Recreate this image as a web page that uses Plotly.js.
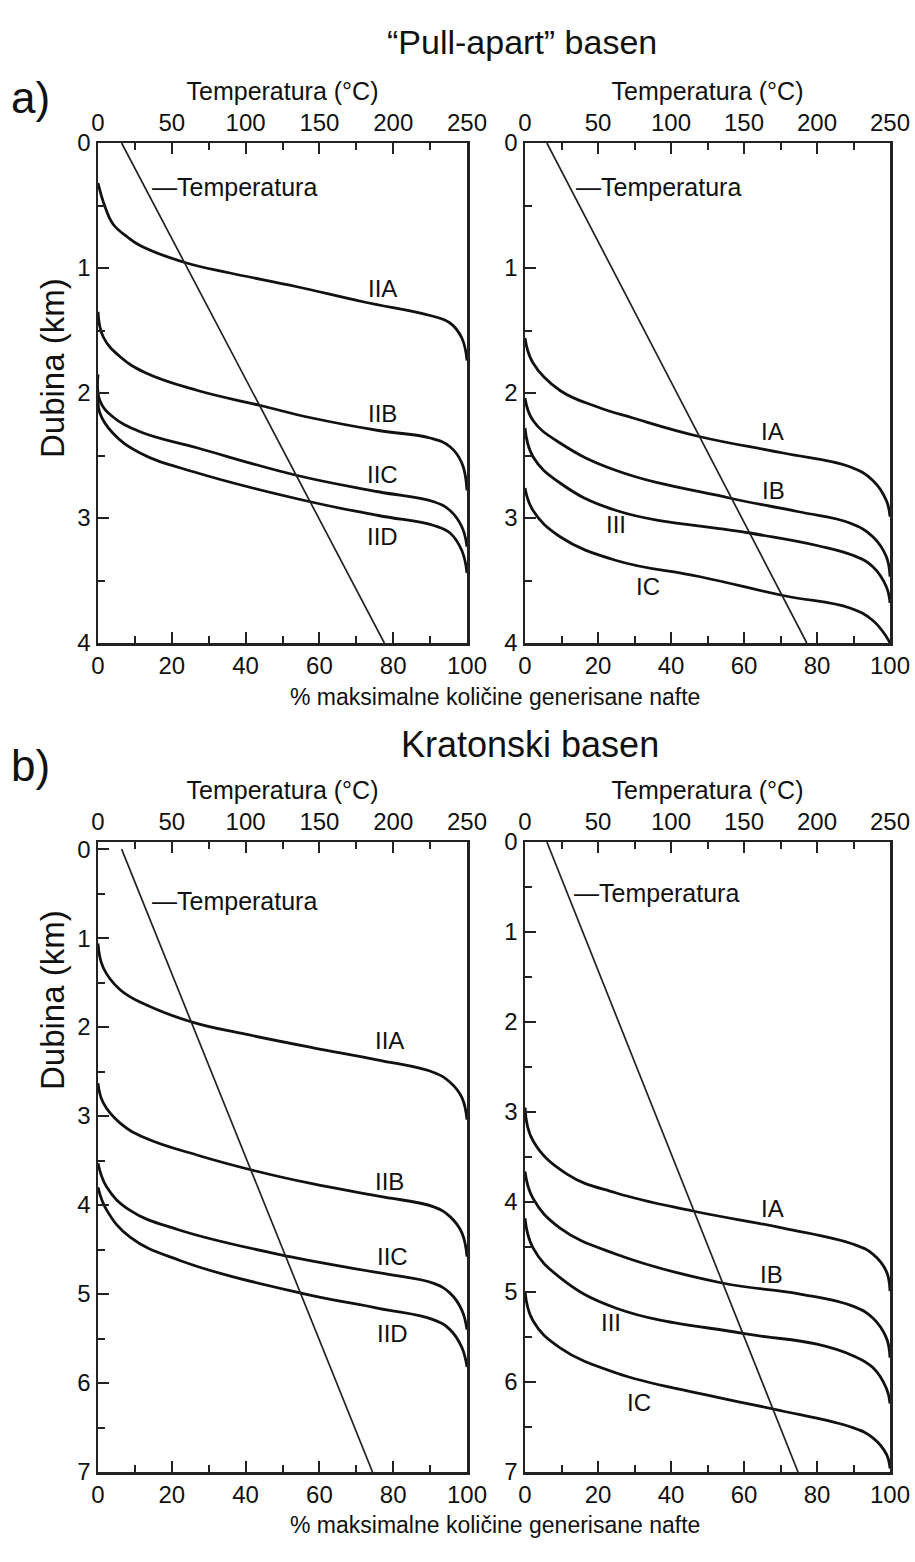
<!DOCTYPE html>
<html><head><meta charset="utf-8">
<script src="https://cdn.plot.ly/plotly-3.0.1.min.js"></script>
<style>body{margin:0;background:#fff}</style>
</head><body><div id="chart" style="width:915px;height:1562px"></div>
<script>
// ---------- a) "Pull-apart" basen, left panel (kerogen type II) ----------
const pctA_IIA = [0, 1.9, 4.1, 7.9, 11.4, 24, 35.8, 53.9, 71.8, 90, 95.4, 98.6, 100];
const depA_IIA = [0.32, 0.51, 0.65, 0.75, 0.82, 0.96, 1.04, 1.15, 1.27, 1.38, 1.44, 1.56, 1.74];
const pctA_IIB = [0, 1.4, 6, 13, 27, 44, 58, 76, 90, 95.4, 98.6, 100];
const depA_IIB = [1.35, 1.55, 1.71, 1.84, 1.98, 2.10, 2.20, 2.30, 2.36, 2.43, 2.56, 2.78];
const pctA_IIC = [0, 0.5, 4, 11.4, 27, 54, 76, 91, 95.4, 98.6, 100];
const depA_IIC = [1.85, 2.06, 2.19, 2.31, 2.44, 2.66, 2.79, 2.87, 2.94, 3.07, 3.23];
const pctA_IID = [0, 0.5, 4, 11.4, 27, 57.5, 76, 91, 95.4, 98.6, 100];
const depA_IID = [2.03, 2.16, 2.32, 2.48, 2.64, 2.87, 2.98, 3.06, 3.12, 3.26, 3.44];
// ---------- a) right panel (kerogen types I and III) ----------
const pctA_IA = [0, 2.2, 9.6, 19.7, 29.6, 48, 70.7, 89, 95.3, 99, 100];
const depA_IA = [1.56, 1.76, 1.98, 2.11, 2.20, 2.35, 2.48, 2.59, 2.70, 2.86, 2.99];
const pctA_IB = [0, 2.2, 9.6, 25, 56, 75, 89, 95.3, 99, 100];
const depA_IB = [2.04, 2.22, 2.40, 2.62, 2.84, 2.95, 3.04, 3.15, 3.31, 3.47];
const pctA_III = [0, 2.2, 9.6, 25, 61.6, 80, 90, 95.3, 99, 100];
const depA_III = [2.28, 2.51, 2.72, 2.94, 3.12, 3.22, 3.30, 3.39, 3.55, 3.68];
const pctA_IC = [0, 2.2, 9.6, 25, 48, 70.7, 89, 95.3, 99, 100];
const depA_IC = [2.76, 2.94, 3.15, 3.34, 3.47, 3.62, 3.72, 3.82, 3.95, 4.0];
// ---------- b) Kratonski basen, left panel ----------
const pctB_IIA = [0, 1.4, 6, 13, 26, 40, 58, 76, 91, 95.4, 98.6, 100];
const depB_IIA = [1.06, 1.33, 1.58, 1.75, 1.95, 2.08, 2.23, 2.37, 2.51, 2.62, 2.79, 3.04];
const pctB_IIB = [0, 1.4, 6, 13, 27, 43, 58, 76, 91, 95.4, 98.6, 100];
const depB_IIB = [2.63, 2.85, 3.08, 3.25, 3.44, 3.62, 3.76, 3.90, 4.02, 4.13, 4.31, 4.58];
const pctB_IIC = [0, 2.4, 8.7, 22, 52, 76, 91, 95.4, 98.6, 100];
const depB_IIC = [3.53, 3.80, 4.06, 4.28, 4.58, 4.76, 4.88, 4.99, 5.18, 5.40];
const pctB_IID = [0, 2.4, 8.7, 22, 55, 76, 91, 95.4, 98.6, 100];
const depB_IID = [3.80, 4.06, 4.36, 4.62, 4.99, 5.16, 5.29, 5.40, 5.60, 5.82];
// ---------- b) right panel ----------
const pctB_IA = [0, 2.2, 11.5, 25, 46, 70.7, 90, 95.3, 99, 100];
const depB_IA = [2.95, 3.32, 3.69, 3.90, 4.10, 4.29, 4.47, 4.58, 4.77, 4.99];
const pctB_IB = [0, 2.2, 9.6, 25, 54, 75, 90, 95.3, 99, 100];
const depB_IB = [3.66, 3.96, 4.29, 4.58, 4.90, 5.02, 5.16, 5.29, 5.51, 5.73];
const pctB_III = [0, 2.2, 9.6, 25, 59.7, 80, 90, 95.3, 99, 100];
const depB_III = [4.18, 4.51, 4.84, 5.18, 5.46, 5.58, 5.71, 5.84, 6.07, 6.24];
const pctB_IC = [0, 2.2, 9.6, 25, 48, 68, 90, 95.3, 99, 100];
const depB_IC = [4.99, 5.32, 5.62, 5.90, 6.13, 6.30, 6.51, 6.62, 6.80, 6.96];
// ---------- temperature profiles (°C vs depth km) ----------
const tempDepthA = [0, 4];
const tempA_left = [16, 194];
const tempA_right = [15, 193];
const tempDepthB = [0, 7];
const tempB_left = [16, 186];
const tempB_right = [15, 187];
// ---------- ticks & labels ----------
const pctTicks = [0, 20, 40, 60, 80, 100];
const tempTicks = [0, 50, 100, 150, 200, 250];
const depthTicksA = [0, 1, 2, 3, 4];
const depthTicksB = [0, 1, 2, 3, 4, 5, 6, 7];
const namesLeft = ['IIA', 'IIB', 'IIC', 'IID'];
const namesRight = ['IA', 'IB', 'III', 'IC'];

const W = 915, H = 1562;
const px = v => v / W;
const py = v => 1 - v / H;
const FONT = 'Liberation Sans, Arial, Helvetica, sans-serif';

function curve(x, y, xa, ya) {
  return {x: x, y: y, xaxis: xa, yaxis: ya, mode: 'lines', type: 'scatter',
    line: {color: '#111', width: 2.8, shape: 'spline', smoothing: 1.2}, hoverinfo: 'skip'};
}
function tline(x, y, xa, ya) {
  return {x: x, y: y, xaxis: xa, yaxis: ya, mode: 'lines', type: 'scatter',
    line: {color: '#222', width: 1.7}, hoverinfo: 'skip'};
}

const data = [
  curve(pctA_IIA, depA_IIA, 'x', 'y'), curve(pctA_IIB, depA_IIB, 'x', 'y'),
  curve(pctA_IIC, depA_IIC, 'x', 'y'), curve(pctA_IID, depA_IID, 'x', 'y'),
  tline(tempA_left, tempDepthA, 'x5', 'y'),
  curve(pctA_IA, depA_IA, 'x2', 'y2'), curve(pctA_IB, depA_IB, 'x2', 'y2'),
  curve(pctA_III, depA_III, 'x2', 'y2'), curve(pctA_IC, depA_IC, 'x2', 'y2'),
  tline(tempA_right, tempDepthA, 'x6', 'y2'),
  curve(pctB_IIA, depB_IIA, 'x3', 'y3'), curve(pctB_IIB, depB_IIB, 'x3', 'y3'),
  curve(pctB_IIC, depB_IIC, 'x3', 'y3'), curve(pctB_IID, depB_IID, 'x3', 'y3'),
  tline(tempB_left, tempDepthB, 'x7', 'y3'),
  curve(pctB_IA, depB_IA, 'x4', 'y4'), curve(pctB_IB, depB_IB, 'x4', 'y4'),
  curve(pctB_III, depB_III, 'x4', 'y4'), curve(pctB_IC, depB_IC, 'x4', 'y4'),
  tline(tempB_right, tempDepthB, 'x8', 'y4')
];

const lineCol = '#222';
function botX(dom, anchor) {
  return {domain: dom, anchor: anchor, range: [0, 100], side: 'bottom',
    showline: true, linecolor: lineCol, linewidth: 2.5, mirror: false,
    ticks: 'inside', tickvals: pctTicks, ticklen: 11, tickwidth: 2, tickcolor: lineCol,
    minor: {dtick: 10, ticks: 'inside', ticklen: 7, tickwidth: 2, tickcolor: lineCol},
    showgrid: false, zeroline: false, fixedrange: true,
    tickfont: {size: 24, color: '#111', family: FONT}};
}
function topX(over, anchor) {
  return {overlaying: over, anchor: anchor, side: 'top', range: [0, 250],
    showline: true, linecolor: lineCol, linewidth: 2.5,
    ticks: 'inside', tickvals: tempTicks, ticklen: 11, tickwidth: 2, tickcolor: lineCol,
    minor: {dtick: 25, ticks: 'inside', ticklen: 7, tickwidth: 2, tickcolor: lineCol},
    showgrid: false, zeroline: false, fixedrange: true,
    tickfont: {size: 24, color: '#111', family: FONT},
    title: {text: 'Temperatura (°C)', font: {size: 25, color: '#111', family: FONT}, standoff: 1}};
}
function leftY(dom, anchor, rng, tv) {
  return {domain: dom, anchor: anchor, range: rng, showline: true, linecolor: lineCol,
    linewidth: 2.5, mirror: true, ticks: 'inside', tickvals: tv, ticklen: 11, tickwidth: 2,
    tickcolor: lineCol, minor: {dtick: 0.5, ticks: 'inside', ticklen: 7, tickwidth: 2, tickcolor: lineCol},
    showgrid: false, zeroline: false, fixedrange: true,
    tickfont: {size: 24, color: '#111', family: FONT}};
}

const xL = [px(98), px(467)], xR = [px(525), px(890)];
const yTop = [py(643), py(143)], yBot = [py(1472), py(842)];

const annotations = [];
function txt(text, x, y, size, opts) {
  annotations.push(Object.assign({text: text, x: x, y: y, xref: 'paper', yref: 'paper',
    showarrow: false, font: {size: size, color: '#111', family: FONT},
    xanchor: 'center', yanchor: 'middle'}, opts || {}));
}
txt('“Pull-apart” basen', px(522), py(42), 34);
txt('a)', px(30), py(97), 44);
txt('Kratonski basen', px(530), py(744), 36);
txt('b)', px(30), py(766), 44);
txt('Dubina (km)', px(52), py(368), 33, {textangle: -90});
txt('Dubina (km)', px(52), py(1000), 33, {textangle: -90});
txt('% maksimalne količine generisane nafte', px(495), py(697), 23);
txt('% maksimalne količine generisane nafte', px(495), py(1525), 23);
txt('—Temperatura', px(150), py(187), 25, {xanchor: 'left'});
txt('—Temperatura', px(574), py(187), 25, {xanchor: 'left'});
txt('—Temperatura', px(150), py(901), 25, {xanchor: 'left'});
txt('—Temperatura', px(572), py(893), 25, {xanchor: 'left'});

function lab(text, x, y, xr, yr) {
  annotations.push({text: text, x: x, y: y, xref: xr, yref: yr, showarrow: false,
    font: {size: 24, color: '#111', family: FONT}, xanchor: 'center', yanchor: 'middle'});
}
const posAL = [[77, 1.16], [77, 2.16], [77, 2.65], [77, 3.15]];
const posAR = [[67.7, 2.31], [68.2, 2.78], [24.9, 3.05], [33.7, 3.55]];
const posBL = [[79.1, 2.15], [79.1, 3.74], [79.7, 4.58], [79.7, 5.44]];
const posBR = [[67.7, 4.07], [67.4, 4.8], [23.6, 5.34], [31.2, 6.23]];
namesLeft.forEach((n, i) => lab(n, posAL[i][0], posAL[i][1], 'x', 'y'));
namesRight.forEach((n, i) => lab(n, posAR[i][0], posAR[i][1], 'x2', 'y2'));
namesLeft.forEach((n, i) => lab(n, posBL[i][0], posBL[i][1], 'x3', 'y3'));
namesRight.forEach((n, i) => lab(n, posBR[i][0], posBR[i][1], 'x4', 'y4'));

const layout = {
  width: W, height: H, margin: {l: 0, r: 0, t: 0, b: 0},
  paper_bgcolor: '#fff', plot_bgcolor: '#fff', showlegend: false,
  font: {family: FONT, color: '#111'},
  xaxis: botX(xL, 'y'), xaxis2: botX(xR, 'y2'), xaxis3: botX(xL, 'y3'), xaxis4: botX(xR, 'y4'),
  xaxis5: topX('x', 'y'), xaxis6: topX('x2', 'y2'), xaxis7: topX('x3', 'y3'), xaxis8: topX('x4', 'y4'),
  yaxis: leftY(yTop, 'x', [4, 0], depthTicksA),
  yaxis2: leftY(yTop, 'x2', [4, 0], depthTicksA),
  yaxis3: leftY(yBot, 'x3', [7, -0.08], depthTicksB),
  yaxis4: leftY(yBot, 'x4', [7, 0], depthTicksB),
  annotations: annotations
};
Plotly.newPlot('chart', data, layout, {staticPlot: true, displayModeBar: false});
</script></body></html>
